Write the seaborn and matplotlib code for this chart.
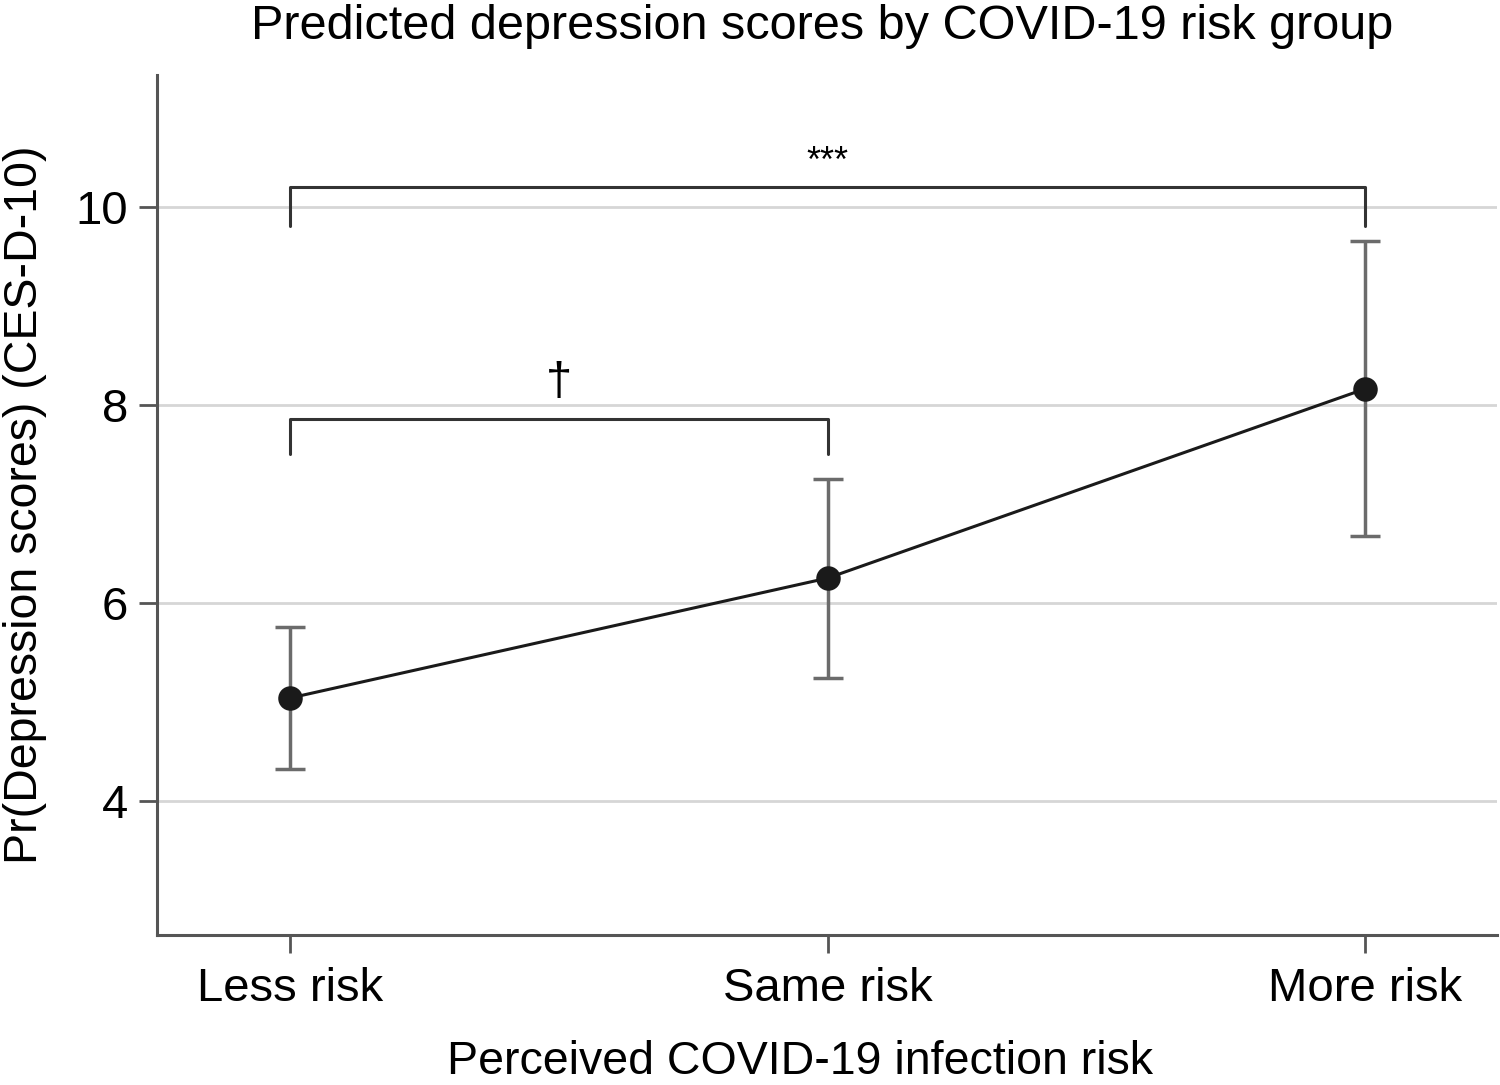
import seaborn as sns
import matplotlib.pyplot as plt
import pandas as pd
import numpy as np

groups = ["Less risk", "Same risk", "More risk"]
pred = [5.04, 6.25, 8.16]
ci_low = [4.32, 5.24, 6.68]
ci_high = [5.76, 7.25, 9.65]
yticks = [4, 6, 8, 10]

sns.set_style("white")
plt.rcParams["font.family"] = ["Liberation Sans", "DejaVu Sans"]
plt.rcParams["text.color"] = "black"
plt.rcParams["axes.labelcolor"] = "black"
plt.rcParams["xtick.labelcolor"] = "black"
plt.rcParams["ytick.labelcolor"] = "black"

df = pd.DataFrame({"group": groups, "pred": pred})

fig = plt.figure(figsize=(15, 10.85), dpi=100)
ax = fig.add_axes([0.1047, 0.1382, 0.8933, 0.7927])

# confidence intervals
lo = np.array(pred) - np.array(ci_low)
hi = np.array(ci_high) - np.array(pred)
ax.errorbar(np.arange(len(groups)), pred, yerr=[lo, hi], fmt="none",
            ecolor="#6b6b6b", elinewidth=2.5, capsize=11, capthick=2.5, zorder=2)

sns.pointplot(data=df, x="group", y="pred", color="#1a1a1a", errorbar=None,
              markers="o", markersize=16, linewidth=2.2, ax=ax, zorder=3)

# significance brackets
def bracket(x0, x1, y, drop, label, ty, fs):
    ax.plot([x0, x0, x1, x1], [y - drop, y, y, y - drop], color="#333333", lw=2.2)
    ax.text((x0 + x1) / 2, ty, label, ha="center", va="center", fontsize=fs)

bracket(0, 2, 10.2, 0.39, "***", 10.45, 26)
bracket(0, 1, 7.86, 0.36, "\u2020", 8.22, 34)

ax.set_xlim(-0.248, 2.246)
ax.set_ylim(2.646, 11.33)
ax.set_yticks(yticks)
ax.yaxis.grid(True, color="#d6d6d6", lw=2)
ax.set_axisbelow(True)

for s in ["top", "right"]:
    ax.spines[s].set_visible(False)
for s in ["left", "bottom"]:
    ax.spines[s].set_color("#555555")
    ax.spines[s].set_linewidth(2.2)

ax.tick_params(axis="both", labelsize=34, length=13, width=2, color="#555555",
               direction="out", left=True, bottom=True, pad=10)
ax.tick_params(axis="y", pad=8)

ax.set_xlabel("Perceived COVID-19 infection risk", fontsize=33.5, labelpad=21)
ax.xaxis.label.set_x(0.48)
ax.set_ylabel("Pr(Depression scores) (CES-D-10)", fontsize=33.5, labelpad=20)
ax.set_title("Predicted depression scores by COVID-19 risk group", fontsize=35,
             pad=26, x=0.496)

fig.savefig("out.png", dpi=100)
